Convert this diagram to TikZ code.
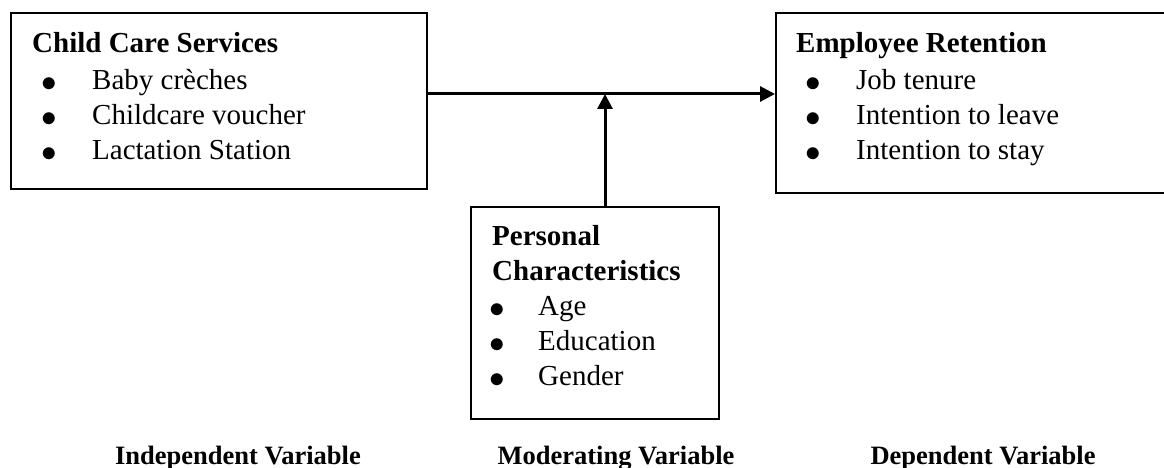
\documentclass[tikz,border=0pt]{standalone}
\usepackage{fontspec}
\setmainfont{Liberation Serif}
\usetikzlibrary{arrows.meta}
\newcommand{\dotmark}{\raisebox{-2pt}{\scalebox{1.25}{$\bullet$}}}
\newcommand{\itm}[1]{\makebox[60pt][l]{\hspace*{9pt}\dotmark}#1}
\newcommand{\itmn}[1]{\makebox[46pt][l]{\hspace*{-3pt}\dotmark}#1}
\tikzset{
  varbox/.style={draw,line width=2pt,anchor=north west,inner sep=0pt},
  vartext/.style={anchor=north west,inner sep=0pt,align=left,font=\fontsize{29}{35}\selectfont},
  varlabel/.style={anchor=base,inner sep=0pt,font=\fontsize{26.5}{30}\selectfont\bfseries},
  link/.style={line width=3pt,-{Triangle[length=15pt,width=15pt]}}
}
\begin{document}
\begin{tikzpicture}[x=1pt,y=-1pt]
\useasboundingbox (0,0) rectangle (1164,468);
\node[varbox,minimum width=416pt,minimum height=176pt] (ccs) at (10,12) {};
\node[varbox,minimum width=420pt,minimum height=180pt] (ret) at (775,12) {};
\node[varbox,minimum width=248pt,minimum height=212pt] (pc) at (470,206) {};
\node[vartext] (ccstext) at ([xshift=22pt,yshift=-20pt]ccs.north west)
  {\textbf{Child Care Services}\\[2pt] \itm{Baby crèches}\\ \itm{Childcare voucher}\\ \itm{Lactation Station}};
\node[vartext] (rettext) at ([xshift=21pt,yshift=-20pt]ret.north west)
  {\textbf{Employee Retention}\\[2pt] \itm{Job tenure}\\ \itm{Intention to leave}\\ \itm{Intention to stay}};
\node[vartext] (pctext) at ([xshift=22pt,yshift=-19pt]pc.north west)
  {\textbf{Personal}\\ \textbf{Characteristics}\\ \itmn{Age}\\ \itmn{Education}\\ \itmn{Gender}};
\coordinate (mid) at (605,94);
\draw[link] (ccs.east |- mid) -- (ret.west |- mid);
\draw[link] (pc.north -| mid) -- (mid);
\node[varlabel] (iv) at (238,464) {Independent Variable};
\node[varlabel] (mv) at (616,464) {Moderating Variable};
\node[varlabel] (dv) at (983,464) {Dependent Variable};
\end{tikzpicture}
\end{document}
